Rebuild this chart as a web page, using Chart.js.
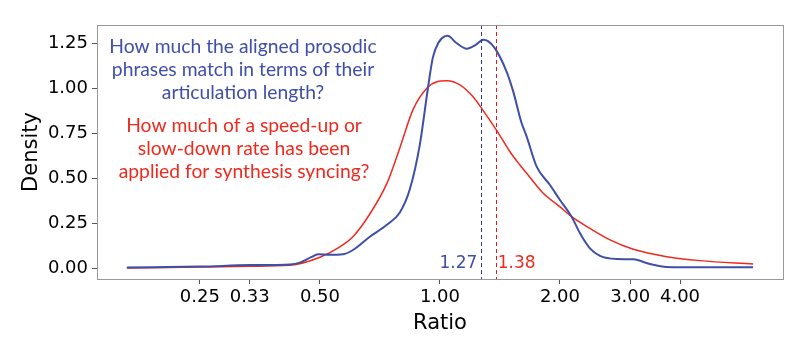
<!DOCTYPE html>
<html>
<head>
<meta charset="utf-8">
<script src="https://cdn.jsdelivr.net/npm/chart.js@4.4.0/dist/chart.umd.min.js"></script>
<style>
  html, body { margin: 0; padding: 0; background: #fff; }
  #wrap { width: 809px; height: 354px; }
</style>
</head>
<body>
<div id="wrap"><canvas id="kde" width="809" height="354"></canvas></div>
<script>
// ---- data ----
const blueX = [0.164, 0.25, 0.334, 0.42, 0.445, 0.475, 0.495, 0.53, 0.571, 0.605, 0.667, 0.736, 0.794, 0.841, 0.891, 0.933, 0.96, 0.99, 1.03, 1.045, 1.10, 1.167, 1.23, 1.284, 1.32, 1.374, 1.47, 1.527, 1.60, 1.65, 1.748, 1.888, 2.0, 2.139, 2.245, 2.378, 2.52, 2.775, 3.054, 3.364, 3.704, 4.49, 6.1];
const blueY = [0.003, 0.008, 0.016, 0.02, 0.03, 0.06, 0.077, 0.073, 0.076, 0.1, 0.174, 0.24, 0.31, 0.44, 0.69, 1.0, 1.17, 1.25, 1.288, 1.29, 1.25, 1.218, 1.24, 1.268, 1.26, 1.22, 1.09, 0.98, 0.81, 0.73, 0.563, 0.461, 0.378, 0.285, 0.193, 0.109, 0.067, 0.05, 0.048, 0.022, 0.006, 0.004, 0.004];

const redX = [0.164, 0.25, 0.334, 0.42, 0.5, 0.561, 0.605, 0.667, 0.736, 0.794, 0.856, 0.928, 0.983, 1.041, 1.122, 1.212, 1.272, 1.387, 1.498, 1.587, 1.65, 1.816, 2.0, 2.139, 2.378, 2.67, 3.054, 3.704, 4.49, 6.1];
const redY = [0.0, 0.005, 0.01, 0.015, 0.06, 0.118, 0.174, 0.30, 0.47, 0.67, 0.88, 1.0, 1.035, 1.04, 1.017, 0.95, 0.887, 0.765, 0.646, 0.572, 0.526, 0.415, 0.34, 0.285, 0.22, 0.156, 0.104, 0.063, 0.041, 0.022];

const medians = [1.27, 1.38];
const xTicks = [0.25, 1/3, 0.5, 1, 2, 3, 4];
const yTicks = [0, 0.25, 0.5, 0.75, 1.0, 1.25];

const blueText = ["How much the aligned prosodic", "phrases match in terms of their", "articulation length?"];
const redText = ["How much of a speed-up or", "slow-down rate has been", "applied for synthesis syncing?"];

const BLUE = "#3f4fa8", RED = "#ee2a1e";
const toPts = (xs, ys) => xs.map((x, i) => ({ x, y: ys[i] }));

/* frame, median lines, annotations */
const extras = {
  id: "extras",
  afterDatasetsDraw(chart){
    const { ctx, chartArea: a, scales: { x } } = chart;
    ctx.save();
    // dashed medians
    const cols = ["#2b3990", "#e8141b"];
    ctx.setLineDash([4, 3]);
    ctx.lineWidth = 1;
    medians.forEach((m, i) => {
      const px = Math.round(x.getPixelForValue(m)) + 0.5;
      ctx.strokeStyle = cols[i];
      ctx.beginPath(); ctx.moveTo(px, a.top); ctx.lineTo(px, a.bottom); ctx.stroke();
    });
    ctx.setLineDash([]);
    // median labels
    ctx.font = "17px 'DejaVu Sans'";
    ctx.textBaseline = "alphabetic";
    const p0 = x.getPixelForValue(medians[0]), p1 = x.getPixelForValue(medians[1]);
    ctx.fillStyle = BLUE; ctx.textAlign = "right";
    ctx.fillText(medians[0].toFixed(2), p0 - 4, 268);
    ctx.fillStyle = RED; ctx.textAlign = "left";
    ctx.fillText(medians[1].toFixed(2), p1 + 2, 268);
    // questions
    ctx.font = "19.3px Lato";
    ctx.textAlign = "center";
    ctx.fillStyle = BLUE;
    blueText.forEach((t, i) => ctx.fillText(t, 243, 53 + i * 23));
    ctx.fillStyle = RED;
    redText.forEach((t, i) => ctx.fillText(t, 244, 132 + i * 23));
    // box
    ctx.strokeStyle = "#999"; ctx.lineWidth = 1;
    ctx.strokeRect(a.left + 0.5, a.top + 0.5, a.right - a.left, a.bottom - a.top);
    ctx.restore();
  }
};

new Chart(document.getElementById("kde"), {
  type: "line",
  data: {
    datasets: [
      { label: "articulation", data: toPts(blueX, blueY), borderColor: BLUE, borderWidth: 2, pointRadius: 0, cubicInterpolationMode: "monotone", fill: false },
      { label: "rate", data: toPts(redX, redY), borderColor: RED, borderWidth: 1.5, pointRadius: 0, cubicInterpolationMode: "monotone", fill: false }
    ]
  },
  options: {
    responsive: false,
    animation: false,
    layout: { padding: { left: 0, right: 26, top: 25, bottom: 0 } },
    plugins: { legend: { display: false }, tooltip: { enabled: false } },
    scales: {
      x: {
        type: "logarithmic",
        min: 0.138, max: 7.25,
        afterBuildTicks: s => { s.ticks = xTicks.map(v => ({ value: v })); },
        afterFit: s => { s.height = 75; },
        ticks: { color: "#000", font: { family: "DejaVu Sans", size: 18 }, padding: 3, maxRotation: 0, autoSkip: false,
                 callback: v => Number(v).toFixed(2) },
        grid: { drawOnChartArea: false, drawTicks: true, tickLength: 5, color: "#555" },
        border: { display: true, color: "#999" },
        title: { display: true, text: "Ratio", color: "#000", font: { family: "DejaVu Sans", size: 21, lineHeight: 1.2 }, padding: { top: 0, bottom: 18 } }
      },
      y: {
        min: -0.0611, max: 1.35,
        afterBuildTicks: s => { s.ticks = yTicks.map(v => ({ value: v })); },
        afterFit: s => { s.width = 97; },
        ticks: { color: "#000", font: { family: "DejaVu Sans", size: 18 }, padding: 4,
                 callback: v => Number(v).toFixed(2) },
        grid: { drawOnChartArea: false, drawTicks: true, tickLength: 5, color: "#555" },
        border: { display: true, color: "#999" },
        title: { display: true, text: "Density", color: "#000", font: { family: "DejaVu Sans", size: 21, lineHeight: 1.2 }, padding: { top: 19, bottom: 0 } }
      }
    }
  },
  plugins: [extras]
});
</script>
</body>
</html>
